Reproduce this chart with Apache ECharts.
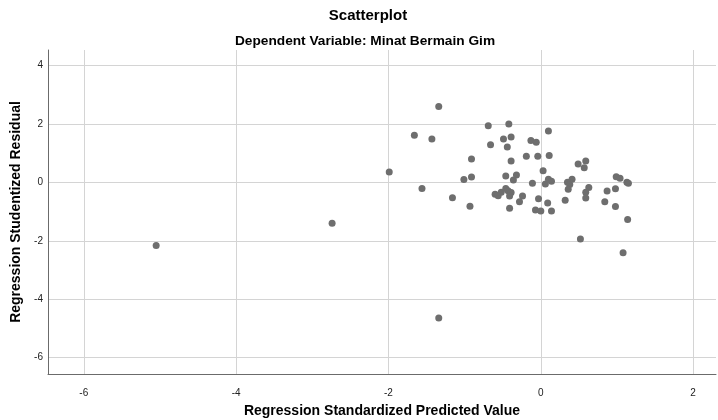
<!DOCTYPE html>
<html>
<head>
<meta charset="utf-8">
<script src="https://cdn.jsdelivr.net/npm/echarts@6/dist/echarts.min.js"></script>
<style>
  html, body { margin: 0; padding: 0; background: #fff; }
  #scatter { width: 718px; height: 420px; }
</style>
</head>
<body>
<div id="scatter"></div>
<script>
// standardized predicted value (x) and studentized residual (y)
const predicted = [
  -1.34, -0.69, -0.42, -1.66, -1.43, 0.10, -0.49, -0.39, -0.44, -0.66,
  -0.13, -0.06, -0.91, -0.39, -0.19, -0.04, 0.11, 0.03, -0.46, -0.32,
  -0.36, -1.01, -0.91, -0.11, 0.06, 0.10, 0.14, -1.56, -1.16, -0.93,
  -0.60, -0.56, -0.52, -0.46, -0.43, -0.39, -0.41, -0.24, -0.28, -0.41,
  -0.03, 0.09, -0.07, 0.00, 0.14, 0.49, 0.59, 0.57, 0.41, 0.35,
  0.38, 0.36, 0.63, 0.59, 0.59, 0.32, 0.99, 1.04, 1.13, 1.15,
  0.87, 0.98, 0.84, 0.98, 1.14, 0.52, 1.08, -5.05, -2.74, -1.99,
  -1.34
];
const residual = [
  2.60, 1.94, 2.00, 1.61, 1.48, 1.76, 1.48, 1.55, 1.21, 1.29,
  1.43, 1.37, 0.80, 0.73, 0.89, 0.89, 0.92, 0.40, 0.22, 0.25,
  0.08, 0.10, 0.18, -0.03, -0.06, 0.11, 0.04, -0.21, -0.53, -0.82,
  -0.41, -0.46, -0.34, -0.21, -0.29, -0.35, -0.47, -0.47, -0.66, -0.89,
  -0.56, -0.71, -0.95, -0.98, -0.98, 0.63, 0.73, 0.50, 0.11, 0.00,
  -0.07, -0.24, -0.18, -0.34, -0.54, -0.61, 0.19, 0.14, 0.00, -0.03,
  -0.30, -0.22, -0.66, -0.83, -1.27, -1.94, -2.41, -2.16, -1.40, 0.35,
  -4.64
];
const xTicks = [-6, -4, -2, 0, 2];
const yTicks = [-6, -4, -2, 0, 2, 4];

const points = predicted.map((v, i) => [v, residual[i]]);

let myChart = echarts.init(document.getElementById("scatter"));
const font = "'Liberation Sans', Arial, sans-serif";

let option = {
  backgroundColor: "#fff",
  animation: false,
  title: [
    {
      text: "Scatterplot",
      left: 363,
      textAlign: "center",
      top: 3,
      textStyle: { fontFamily: font, fontSize: 15, fontWeight: "bold", color: "#000" }
    },
    {
      text: "Dependent Variable: Minat Bermain Gim",
      left: 360,
      textAlign: "center",
      top: 29,
      textStyle: { fontFamily: font, fontSize: 13.7, fontWeight: "bold", color: "#000" }
    }
  ],
  grid: { left: 48, right: 2, top: 50, bottom: 46, outerBoundsMode: "none" },
  xAxis: {
    type: "value",
    min: -6.47,
    max: 2.3,
    name: "Regression Standardized Predicted Value",
    nameLocation: "middle",
    nameGap: 30,
    nameTextStyle: { fontFamily: font, fontSize: 14, fontWeight: "bold", color: "#000" },
    axisLine: { onZero: false, lineStyle: { color: "#6b6b6b", width: 1 } },
    axisTick: { show: false, customValues: xTicks },
    axisLabel: { customValues: xTicks, fontFamily: font, fontSize: 10, color: "#222", margin: 14 },
    splitLine: { show: true, lineStyle: { color: "#d4d4d4", width: 1 } }
  },
  yAxis: {
    type: "value",
    min: -6.56,
    max: 4.53,
    name: "Regression Studentized Residual",
    nameLocation: "middle",
    nameGap: 22,
    nameTextStyle: { fontFamily: font, fontSize: 14, fontWeight: "bold", color: "#000" },
    axisLine: { show: true, onZero: false, lineStyle: { color: "#6b6b6b", width: 1 } },
    axisTick: { show: false, customValues: yTicks },
    axisLabel: { customValues: yTicks, fontFamily: font, fontSize: 10, color: "#222", margin: 5 },
    splitLine: { show: true, lineStyle: { color: "#d4d4d4", width: 1 } }
  },
  series: [
    {
      type: "scatter",
      data: points,
      symbolSize: 7,
      itemStyle: { color: "#6e6e6e", opacity: 1 }
    }
  ]
};

myChart.setOption(option);
</script>
</body>
</html>
